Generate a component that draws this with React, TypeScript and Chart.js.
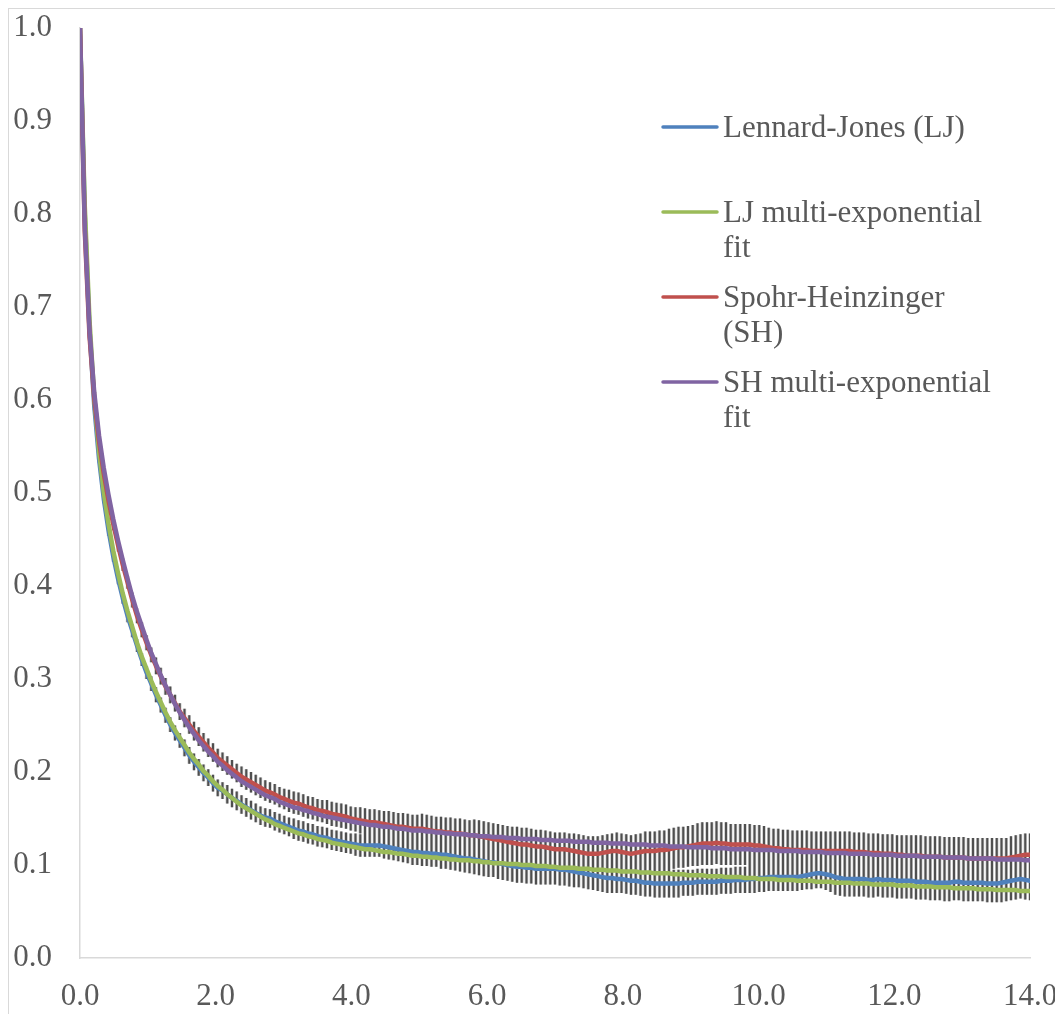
import React, { useEffect, useRef } from "react";
import { Chart, registerables } from "chart.js";

Chart.register(...registerables);

// ---- data -------------------------------------------------------------
// sampling interval of the time axis (ns)
const TIME_STEP = 0.07;

const X_TICKS = [0, 2, 4, 6, 8, 10, 12, 14];
const Y_TICKS = [0, 0.1, 0.2, 0.3, 0.4, 0.5, 0.6, 0.7, 0.8, 0.9, 1.0];

const SERIES_NAMES = [
  "Lennard-Jones (LJ)",
  "LJ multi-exponential fit",
  "Spohr-Heinzinger (SH)",
  "SH multi-exponential fit",
];
const LEGEND_LINES = [
  ["Lennard-Jones (LJ)"],
  ["LJ multi-exponential", "fit"],
  ["Spohr-Heinzinger", "(SH)"],
  ["SH multi-exponential", "fit"],
];
const SERIES_COLORS = ["#4F81BD", "#9BBB59", "#C0504D", "#8064A2"];

// Lennard-Jones (LJ) data
const LJ = [
  1.000, 0.800, 0.676, 0.594, 0.537, 0.494, 0.460, 0.432, 0.408, 0.387,
  0.368, 0.352, 0.336, 0.321, 0.307, 0.295, 0.283, 0.272, 0.261, 0.251,
  0.242, 0.234, 0.226, 0.218, 0.211, 0.205, 0.199, 0.194, 0.188, 0.183,
  0.180, 0.176, 0.172, 0.169, 0.165, 0.162, 0.159, 0.156, 0.153, 0.151,
  0.150, 0.147, 0.145, 0.143, 0.141, 0.139, 0.137, 0.136, 0.134, 0.133,
  0.131, 0.130, 0.129, 0.127, 0.126, 0.125, 0.124, 0.123, 0.122, 0.121,
  0.121, 0.121, 0.121, 0.121, 0.120, 0.119, 0.118, 0.117, 0.116, 0.115,
  0.114, 0.114, 0.113, 0.113, 0.112, 0.112, 0.111, 0.111, 0.110, 0.109,
  0.108, 0.107, 0.107, 0.106, 0.105, 0.104, 0.103, 0.103, 0.102, 0.101,
  0.100, 0.099, 0.098, 0.098, 0.097, 0.097, 0.096, 0.096, 0.096, 0.096,
  0.096, 0.095, 0.095, 0.094, 0.093, 0.092, 0.091, 0.090, 0.089, 0.088,
  0.087, 0.086, 0.086, 0.085, 0.085, 0.084, 0.083, 0.083, 0.082, 0.081,
  0.081, 0.080, 0.080, 0.080, 0.080, 0.080, 0.080, 0.081, 0.081, 0.081,
  0.082, 0.082, 0.082, 0.082, 0.082, 0.083, 0.083, 0.083, 0.084, 0.084,
  0.084, 0.085, 0.085, 0.086, 0.086, 0.087, 0.087, 0.087, 0.087, 0.087,
  0.087, 0.087, 0.088, 0.089, 0.090, 0.091, 0.091, 0.090, 0.089, 0.087,
  0.086, 0.085, 0.085, 0.085, 0.085, 0.085, 0.084, 0.084, 0.085, 0.084,
  0.084, 0.084, 0.083, 0.083, 0.083, 0.083, 0.082, 0.082, 0.082, 0.081,
  0.081, 0.081, 0.081, 0.081, 0.082, 0.082, 0.081, 0.081, 0.081, 0.081,
  0.081, 0.080, 0.080, 0.080, 0.081, 0.082, 0.083, 0.084, 0.085, 0.084,
  0.083,
];

// LJ standard deviation (error bars)
const LJ_ERR = [
  0.003, 0.004, 0.004, 0.005, 0.005, 0.005, 0.006, 0.006, 0.006, 0.006,
  0.007, 0.007, 0.007, 0.007, 0.007, 0.008, 0.008, 0.008, 0.008, 0.008,
  0.008, 0.008, 0.009, 0.009, 0.009, 0.009, 0.009, 0.009, 0.009, 0.009,
  0.009, 0.010, 0.010, 0.010, 0.010, 0.010, 0.010, 0.010, 0.010, 0.010,
  0.010, 0.010, 0.010, 0.010, 0.010, 0.011, 0.011, 0.011, 0.011, 0.011,
  0.011, 0.011, 0.011, 0.011, 0.011, 0.011, 0.011, 0.011, 0.012, 0.012,
  0.012, 0.012, 0.012, 0.012, 0.013, 0.013, 0.013, 0.013, 0.013, 0.013,
  0.014, 0.014, 0.014, 0.014, 0.014, 0.014, 0.015, 0.015, 0.015, 0.015,
  0.015, 0.015, 0.016, 0.016, 0.016, 0.016, 0.016, 0.016, 0.017, 0.017,
  0.017, 0.017, 0.017, 0.017, 0.017, 0.017, 0.017, 0.017, 0.017, 0.017,
  0.017, 0.017, 0.017, 0.017, 0.017, 0.016, 0.016, 0.016, 0.016, 0.016,
  0.016, 0.016, 0.016, 0.015, 0.015, 0.015, 0.015, 0.015, 0.015, 0.015,
  0.015, 0.015, 0.015, 0.015, 0.015, 0.015, 0.015, 0.014, 0.014, 0.014,
  0.014, 0.014, 0.014, 0.014, 0.014, 0.014, 0.014, 0.014, 0.014, 0.014,
  0.014, 0.015, 0.015, 0.015, 0.015, 0.015, 0.015, 0.015, 0.015, 0.015,
  0.015, 0.015, 0.015, 0.015, 0.016, 0.016, 0.016, 0.017, 0.018, 0.019,
  0.019, 0.019, 0.019, 0.019, 0.019, 0.019, 0.019, 0.019, 0.019, 0.019,
  0.019, 0.019, 0.019, 0.019, 0.019, 0.019, 0.019, 0.019, 0.019, 0.019,
  0.019, 0.019, 0.020, 0.020, 0.020, 0.020, 0.020, 0.020, 0.020, 0.020,
  0.020, 0.020, 0.020, 0.020, 0.021, 0.021, 0.021, 0.021, 0.021, 0.021,
  0.021,
];

// LJ multi-exponential fit
const LJ_FIT = [
  1.000, 0.809, 0.686, 0.603, 0.545, 0.501, 0.467, 0.438, 0.414, 0.392,
  0.373, 0.356, 0.339, 0.324, 0.311, 0.298, 0.286, 0.275, 0.264, 0.254,
  0.245, 0.237, 0.229, 0.221, 0.214, 0.208, 0.201, 0.196, 0.190, 0.185,
  0.181, 0.176, 0.172, 0.168, 0.164, 0.161, 0.158, 0.155, 0.152, 0.149,
  0.147, 0.144, 0.142, 0.140, 0.138, 0.136, 0.134, 0.133, 0.131, 0.130,
  0.128, 0.127, 0.126, 0.124, 0.123, 0.122, 0.121, 0.120, 0.119, 0.118,
  0.117, 0.117, 0.116, 0.115, 0.114, 0.114, 0.113, 0.112, 0.112, 0.111,
  0.110, 0.110, 0.109, 0.109, 0.108, 0.108, 0.107, 0.107, 0.106, 0.106,
  0.105, 0.105, 0.105, 0.104, 0.104, 0.103, 0.103, 0.102, 0.102, 0.102,
  0.101, 0.101, 0.101, 0.100, 0.100, 0.100, 0.099, 0.099, 0.099, 0.098,
  0.098, 0.097, 0.097, 0.097, 0.097, 0.096, 0.096, 0.096, 0.095, 0.095,
  0.095, 0.094, 0.094, 0.094, 0.093, 0.093, 0.093, 0.093, 0.092, 0.092,
  0.092, 0.091, 0.091, 0.091, 0.091, 0.090, 0.090, 0.090, 0.089, 0.089,
  0.089, 0.089, 0.088, 0.088, 0.088, 0.088, 0.087, 0.087, 0.087, 0.087,
  0.086, 0.086, 0.086, 0.085, 0.085, 0.085, 0.085, 0.084, 0.084, 0.084,
  0.084, 0.083, 0.083, 0.083, 0.083, 0.082, 0.082, 0.082, 0.082, 0.081,
  0.081, 0.081, 0.081, 0.080, 0.080, 0.080, 0.080, 0.079, 0.079, 0.079,
  0.079, 0.079, 0.078, 0.078, 0.078, 0.078, 0.077, 0.077, 0.077, 0.077,
  0.076, 0.076, 0.076, 0.076, 0.075, 0.075, 0.075, 0.075, 0.075, 0.074,
  0.074, 0.074, 0.074, 0.073, 0.073, 0.073, 0.073, 0.073, 0.072, 0.072,
  0.072,
];

// Spohr-Heinzinger (SH) data
const SH = [
  1.000, 0.782, 0.669, 0.602, 0.556, 0.521, 0.492, 0.467, 0.444, 0.423,
  0.404, 0.385, 0.368, 0.353, 0.339, 0.326, 0.314, 0.303, 0.292, 0.283,
  0.274, 0.265, 0.258, 0.251, 0.244, 0.238, 0.232, 0.226, 0.221, 0.215,
  0.211, 0.207, 0.203, 0.199, 0.195, 0.192, 0.189, 0.186, 0.183, 0.180,
  0.178, 0.176, 0.173, 0.171, 0.169, 0.167, 0.166, 0.164, 0.162, 0.161,
  0.159, 0.158, 0.157, 0.155, 0.154, 0.153, 0.152, 0.150, 0.149, 0.148,
  0.147, 0.146, 0.146, 0.145, 0.144, 0.143, 0.142, 0.141, 0.141, 0.140,
  0.139, 0.139, 0.139, 0.138, 0.137, 0.136, 0.136, 0.135, 0.135, 0.134,
  0.134, 0.133, 0.132, 0.132, 0.131, 0.130, 0.129, 0.128, 0.127, 0.126,
  0.125, 0.124, 0.123, 0.122, 0.122, 0.121, 0.120, 0.120, 0.119, 0.118,
  0.117, 0.117, 0.117, 0.116, 0.115, 0.114, 0.113, 0.112, 0.112, 0.112,
  0.113, 0.114, 0.115, 0.115, 0.114, 0.113, 0.112, 0.113, 0.114, 0.115,
  0.115, 0.115, 0.116, 0.116, 0.117, 0.118, 0.119, 0.119, 0.120, 0.121,
  0.122, 0.123, 0.123, 0.123, 0.124, 0.123, 0.123, 0.122, 0.122, 0.122,
  0.122, 0.122, 0.121, 0.121, 0.120, 0.119, 0.118, 0.118, 0.117, 0.117,
  0.116, 0.116, 0.116, 0.116, 0.115, 0.115, 0.115, 0.115, 0.115, 0.115,
  0.115, 0.115, 0.115, 0.114, 0.114, 0.114, 0.113, 0.113, 0.113, 0.112,
  0.112, 0.112, 0.111, 0.111, 0.110, 0.110, 0.110, 0.110, 0.109, 0.109,
  0.109, 0.109, 0.108, 0.108, 0.108, 0.108, 0.108, 0.107, 0.107, 0.107,
  0.107, 0.107, 0.107, 0.107, 0.107, 0.107, 0.108, 0.109, 0.110, 0.111,
  0.111,
];

// SH standard deviation (error bars)
const SH_ERR = [
  0.003, 0.004, 0.005, 0.005, 0.006, 0.006, 0.006, 0.007, 0.007, 0.007,
  0.007, 0.008, 0.008, 0.008, 0.008, 0.008, 0.009, 0.009, 0.009, 0.009,
  0.009, 0.009, 0.010, 0.010, 0.010, 0.010, 0.010, 0.010, 0.010, 0.010,
  0.010, 0.010, 0.010, 0.010, 0.011, 0.011, 0.011, 0.011, 0.011, 0.011,
  0.011, 0.011, 0.011, 0.011, 0.012, 0.012, 0.012, 0.012, 0.012, 0.012,
  0.012, 0.012, 0.013, 0.013, 0.013, 0.013, 0.013, 0.013, 0.013, 0.014,
  0.014, 0.014, 0.014, 0.014, 0.014, 0.015, 0.015, 0.015, 0.015, 0.015,
  0.015, 0.015, 0.016, 0.016, 0.016, 0.016, 0.016, 0.016, 0.016, 0.016,
  0.016, 0.016, 0.016, 0.017, 0.017, 0.017, 0.017, 0.017, 0.017, 0.017,
  0.017, 0.017, 0.018, 0.018, 0.018, 0.018, 0.018, 0.018, 0.018, 0.018,
  0.018, 0.018, 0.018, 0.018, 0.019, 0.019, 0.019, 0.019, 0.019, 0.019,
  0.019, 0.019, 0.019, 0.020, 0.020, 0.020, 0.020, 0.020, 0.020, 0.021,
  0.021, 0.021, 0.021, 0.021, 0.022, 0.022, 0.022, 0.022, 0.022, 0.022,
  0.023, 0.023, 0.023, 0.023, 0.023, 0.023, 0.023, 0.022, 0.022, 0.022,
  0.022, 0.022, 0.022, 0.022, 0.022, 0.021, 0.021, 0.021, 0.021, 0.021,
  0.021, 0.021, 0.021, 0.021, 0.021, 0.021, 0.021, 0.021, 0.021, 0.021,
  0.021, 0.021, 0.021, 0.021, 0.021, 0.021, 0.021, 0.021, 0.021, 0.021,
  0.021, 0.021, 0.021, 0.021, 0.022, 0.022, 0.022, 0.022, 0.022, 0.022,
  0.022, 0.022, 0.022, 0.022, 0.022, 0.022, 0.022, 0.022, 0.022, 0.022,
  0.022, 0.022, 0.022, 0.022, 0.022, 0.022, 0.023, 0.023, 0.023, 0.023,
  0.023,
];

// SH multi-exponential fit
const SH_FIT = [
  1.000, 0.787, 0.675, 0.608, 0.562, 0.527, 0.498, 0.472, 0.449, 0.428,
  0.408, 0.389, 0.372, 0.357, 0.342, 0.328, 0.316, 0.304, 0.293, 0.283,
  0.273, 0.264, 0.256, 0.248, 0.241, 0.234, 0.228, 0.222, 0.217, 0.211,
  0.207, 0.202, 0.198, 0.194, 0.190, 0.187, 0.184, 0.181, 0.178, 0.175,
  0.173, 0.171, 0.168, 0.166, 0.164, 0.162, 0.161, 0.159, 0.158, 0.156,
  0.155, 0.153, 0.152, 0.151, 0.150, 0.149, 0.148, 0.147, 0.146, 0.145,
  0.144, 0.143, 0.143, 0.142, 0.141, 0.141, 0.140, 0.139, 0.139, 0.138,
  0.137, 0.137, 0.137, 0.136, 0.136, 0.135, 0.135, 0.134, 0.134, 0.133,
  0.133, 0.133, 0.132, 0.132, 0.131, 0.131, 0.131, 0.130, 0.130, 0.130,
  0.129, 0.129, 0.129, 0.128, 0.128, 0.128, 0.128, 0.127, 0.127, 0.127,
  0.126, 0.126, 0.126, 0.126, 0.125, 0.125, 0.125, 0.125, 0.124, 0.124,
  0.124, 0.124, 0.123, 0.123, 0.123, 0.123, 0.122, 0.122, 0.122, 0.122,
  0.121, 0.121, 0.121, 0.121, 0.120, 0.120, 0.120, 0.120, 0.119, 0.119,
  0.119, 0.119, 0.119, 0.118, 0.118, 0.118, 0.118, 0.117, 0.117, 0.117,
  0.117, 0.117, 0.116, 0.116, 0.116, 0.116, 0.116, 0.115, 0.115, 0.115,
  0.115, 0.115, 0.114, 0.114, 0.114, 0.114, 0.114, 0.113, 0.113, 0.113,
  0.113, 0.113, 0.112, 0.112, 0.112, 0.112, 0.112, 0.111, 0.111, 0.111,
  0.111, 0.111, 0.110, 0.110, 0.110, 0.110, 0.110, 0.109, 0.109, 0.109,
  0.109, 0.109, 0.108, 0.108, 0.108, 0.108, 0.108, 0.107, 0.107, 0.107,
  0.107, 0.107, 0.107, 0.106, 0.106, 0.106, 0.106, 0.106, 0.106, 0.105,
  0.105,
];

// ---- styling --------------------------------------------------------------
const FONT_FAMILY = "'Liberation Serif', 'Times New Roman', serif";
const FONT_SIZE = 31;
const TEXT_COLOR = "#595959";
const AXIS_COLOR = "#d9d9d9";

const CANVAS_W = 1054;
const CANVAS_H = 1005;

const errorBarPlugin = {
  id: "errorBars",
  beforeDatasetsDraw(chart: any) {
    const { ctx, scales, chartArea } = chart;
    const xs = scales.x;
    const ys = scales.y;
    const segs: number[][] = [];
    chart.data.datasets.forEach((ds: any) => {
      if (!ds.errors) return;
      ds.data.forEach((p: any, i: number) => {
        const e = ds.errors[i];
        const px = xs.getPixelForValue(p.x);
        segs.push([px, ys.getPixelForValue(p.y + e), ys.getPixelForValue(p.y - e)]);
      });
    });
    ctx.save();
    ctx.beginPath();
    ctx.rect(chartArea.left, chartArea.top, chartArea.right - chartArea.left, chartArea.bottom - chartArea.top);
    ctx.clip();
    ctx.lineCap = "butt";
    ctx.strokeStyle = "#c4c4c4";
    ctx.lineWidth = 3.4;
    ctx.beginPath();
    segs.forEach(([x, a, b]) => { ctx.moveTo(x, a); ctx.lineTo(x, b); });
    ctx.stroke();
    ctx.strokeStyle = "#4f4f4f";
    ctx.lineWidth = 2;
    ctx.beginPath();
    segs.forEach(([x, a, b]) => { ctx.moveTo(x, a); ctx.lineTo(x, b); });
    ctx.stroke();
    ctx.restore();
  },
};

const legendPlugin = {
  id: "wrappedLegend",
  afterDraw(chart: any) {
    const { ctx } = chart;
    const symX0 = 654;
    const symX1 = 708;
    const textX = 714;
    const firstBaseline = 128;
    const itemStep = 85;
    const lineStep = 35;
    ctx.save();
    ctx.font = `${FONT_SIZE}px ${FONT_FAMILY}`;
    ctx.fillStyle = TEXT_COLOR;
    ctx.textBaseline = "alphabetic";
    ctx.textAlign = "left";
    LEGEND_LINES.forEach((lines, i) => {
      const base = firstBaseline + i * itemStep;
      ctx.strokeStyle = SERIES_COLORS[i];
      ctx.lineWidth = 3.5;
      ctx.lineCap = "round";
      ctx.beginPath();
      ctx.moveTo(symX0, base - 10);
      ctx.lineTo(symX1, base - 10);
      ctx.stroke();
      lines.forEach((t, j) => ctx.fillText(t, textX, base + j * lineStep));
    });
    ctx.restore();
  },
};

export default function App() {
  const ref = useRef<HTMLCanvasElement>(null);

  useEffect(() => {
    document.body.style.overflow = "hidden";
    document.documentElement.style.overflow = "hidden";
    const times = LJ.map((_, i) => Math.round(i * TIME_STEP * 100) / 100);
    const toPts = (arr: number[]) => arr.map((v, i) => ({ x: times[i], y: v }));
    const lineStyle = (i: number) => ({
      borderColor: SERIES_COLORS[i],
      backgroundColor: SERIES_COLORS[i],
      borderWidth: 4.5,
      pointRadius: 0,
      tension: 0,
      borderJoinStyle: "round" as const,
      borderCapStyle: "round" as const,
      fill: false,
    });
    const tickFont = { family: FONT_FAMILY, size: FONT_SIZE };

    const chart = new Chart(ref.current!, {
      type: "line",
      data: {
        datasets: [
          { label: SERIES_NAMES[0], data: toPts(LJ), order: 3, errors: LJ_ERR, ...lineStyle(0) } as any,
          { label: SERIES_NAMES[1], data: toPts(LJ_FIT), order: 2, ...lineStyle(1) },
          { label: SERIES_NAMES[2], data: toPts(SH), order: 1, errors: SH_ERR, ...lineStyle(2) } as any,
          { label: SERIES_NAMES[3], data: toPts(SH_FIT), order: 0, ...lineStyle(3) },
        ],
      },
      options: {
        responsive: false,
        animation: false,
        events: [],
        layout: { padding: { top: 19, right: 33, bottom: 0, left: 0 } },
        plugins: {
          legend: { display: false },
          tooltip: { enabled: false },
          title: { display: false },
        },
        scales: {
          x: {
            type: "linear",
            min: 0,
            max: 14,
            grid: { display: false, drawTicks: false },
            border: { display: true, color: AXIS_COLOR, width: 1.5 },
            afterBuildTicks: (s: any) => { s.ticks = X_TICKS.map((v) => ({ value: v })); },
            afterFit: (s: any) => {
              s.height = 56;
              s.paddingLeft = 0;
              s.paddingRight = 0;
              s.paddingTop = 0;
              s.paddingBottom = 0;
            },
            ticks: {
              autoSkip: false,
              maxRotation: 0,
              padding: 20,
              color: TEXT_COLOR,
              font: tickFont,
              callback: (v: any) => Number(v).toFixed(1),
            },
          },
          y: {
            type: "linear",
            min: 0,
            max: 1,
            grid: { display: false, drawTicks: false },
            border: { display: true, color: AXIS_COLOR, width: 1.5 },
            afterBuildTicks: (s: any) => { s.ticks = Y_TICKS.map((v) => ({ value: v })); },
            afterFit: (s: any) => {
              s.width = 71;
              s.paddingTop = 0;
              s.paddingBottom = 0;
              s.paddingLeft = 0;
              s.paddingRight = 0;
            },
            ticks: {
              autoSkip: false,
              padding: 28,
              color: TEXT_COLOR,
              font: tickFont,
              callback: (v: any) => Number(v).toFixed(1),
            },
          },
        },
      },
      plugins: [errorBarPlugin, legendPlugin],
    });
    return () => chart.destroy();
  }, []);

  return (
    <div
      style={{
        position: "relative",
        width: 1100,
        height: 1100,
        border: "1px solid #d9d9d9",
        boxSizing: "border-box",
      }}
    >
      <canvas
        ref={ref}
        width={CANVAS_W}
        height={CANVAS_H}
        style={{ position: "absolute", left: 0, top: 0, width: CANVAS_W, height: CANVAS_H }}
      />
    </div>
  );
}
